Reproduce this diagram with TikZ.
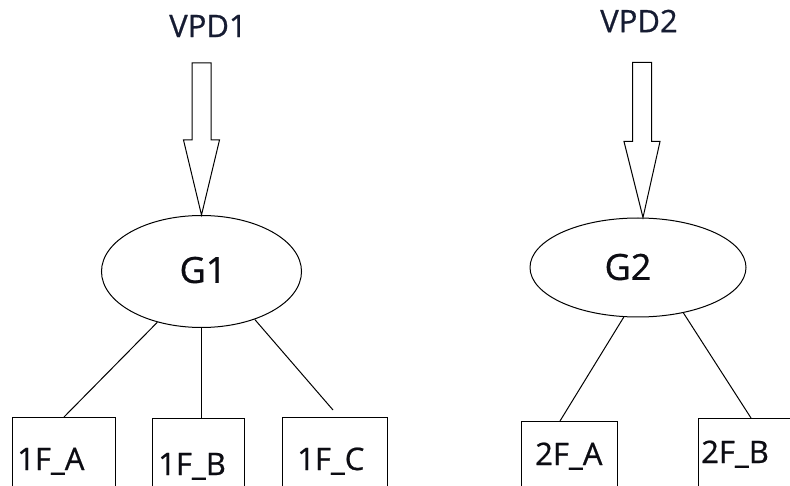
\documentclass[tikz,border=0pt]{standalone}
\usepackage{fontspec}
\setmainfont{Open Sans}
\newfontfamily\lblfont{Open Sans}[FakeBold=0.7]
\usetikzlibrary{shapes.geometric}
\definecolor{vpdcol}{RGB}{22,28,50}
\definecolor{txtcol}{RGB}{12,12,18}
\tikzset{
  gnode/.style={draw=black, ellipse, line width=1pt, inner sep=0pt},
  fbox/.style={draw=black, rectangle, line width=1pt, inner sep=0pt, anchor=north west},
  flbl/.style={font=\lblfont\fontsize{31}{31}\selectfont, text=txtcol, inner sep=0pt, anchor=base west},
  glbl/.style={font=\lblfont\fontsize{36}{36}\selectfont, text=txtcol, inner sep=0pt},
  vlbl/.style={font=\lblfont\fontsize{31}{31}\selectfont, text=vpdcol, inner sep=0pt},
  conn/.style={draw=black, line width=1pt},
  hollow/.style={draw=black, line width=1pt, fill=white, line join=miter}
}
\begin{document}
\begin{tikzpicture}[x=1pt, y=-1pt]
\clip (0,0) rectangle (790,486);
\fill[white] (0,0) rectangle (790,486);

% ellipses
\node[gnode, minimum width=200pt, minimum height=112pt] (g1) at (201.5,271.5) {};
\node[gnode, minimum width=216pt, minimum height=99pt] (g2) at (638,267.5) {};
\node[glbl] (g1t) at (203,270) {G1};
\node[glbl] (g2t) at (628,267) {G2};

% top labels
\node[vlbl] (v1) at (208,26) {VPD1};
\node[vlbl] (v2) at (639,21) {VPD2};

% hollow arrows
\coordinate (t1) at (g1.north);
\coordinate (t2) at ([xshift=5pt]g2.north);
\draw[hollow] (t1) -- ++(-18,-75) -- ++(8.5,0) -- ++(0,-77) -- ++(19,0) -- ++(0,77) -- ++(8.5,0) -- cycle;
\draw[hollow] (t2) -- ++(-19,-76) -- ++(8.5,0) -- ++(0,-79) -- ++(19,0) -- ++(0,79) -- ++(8.5,0) -- cycle;

% boxes
\node[fbox, minimum width=103pt, minimum height=110pt] (f1a) at (12,417) {};
\node[fbox, minimum width=92pt, minimum height=110pt] (f1b) at (152,418) {};
\node[fbox, minimum width=105pt, minimum height=110pt] (f1c) at (282,417) {};
\node[fbox, minimum width=96pt, minimum height=110pt] (f2a) at (521,421) {};
\node[fbox, minimum width=120pt, minimum height=110pt] (f2b) at (698,418) {};

\node[flbl] (l1a) at (17,470) {1F\_A};
\node[flbl] (l1b) at (158,475) {1F\_B};
\node[flbl] (l1c) at (297,470) {1F\_C};
\node[flbl] (l2a) at (535,465) {2F\_A};
\node[flbl] (l2b) at (701,463) {2F\_B};

% connectors
\coordinate (c1c) at (333,410);
\coordinate (c2a) at (560,421);
\coordinate (c2b) at (751,418);
\draw[conn] (g1.229) -- (f1a.north);
\draw[conn] (g1.south) -- (g1.south |- f1b.north);
\draw[conn] (g1.318) -- (c1c);
\draw[conn] (g2.254) -- (c2a);
\draw[conn] (g2.315) -- (c2b);
\end{tikzpicture}
\end{document}
